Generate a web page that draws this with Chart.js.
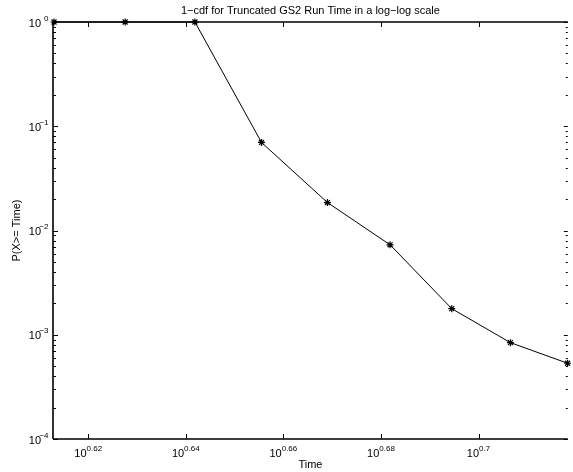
<!DOCTYPE html>
<html>
<head>
<meta charset="utf-8">
<script src="https://cdn.jsdelivr.net/npm/chart.js@4/dist/chart.umd.min.js"></script>
<style>
  html, body { margin: 0; padding: 0; background: #fff; }
  canvas { display: block; }
</style>
</head>
<body>
<canvas id="c" width="573" height="472"></canvas>
<script>
// ---- data ----
const timeValues = [4.102, 4.242, 4.384, 4.524, 4.667, 4.807, 4.949, 5.088, 5.227];
const probValues = [1, 1, 1, 0.0699, 0.01855, 0.00729, 0.00178, 0.00084, 0.000533];
const xTickExponents = [0.62, 0.64, 0.66, 0.68, 0.70];
const xTickLabels = ['0.62', '0.64', '0.66', '0.68', '0.7'];
const yTickExponents = [0, -1, -2, -3, -4];
const yTickLabels = ['0', '\u22121', '\u22122', '\u22123', '\u22124'];
const xRange = [4.102, 5.2276];
const yRange = [1e-4, 1];
const titleText = '1\u2212cdf for Truncated GS2 Run Time in a log\u2212log scale';
const xTitle = 'Time';
const yTitle = 'P(X>= Time)';

const FONT = '"Liberation Sans", Arial, Helvetica, sans-serif';

const axesPlugin = {
  id: 'matlabAxes',
  afterDraw(chart) {
    const ctx = chart.ctx;
    const a = chart.chartArea;
    const xs = chart.scales.x, ys = chart.scales.y;
    ctx.save();
    ctx.strokeStyle = '#000';
    ctx.fillStyle = '#000';
    // box lines
    ctx.lineWidth = 1.6;
    ctx.beginPath();
    ctx.moveTo(a.left, a.top); ctx.lineTo(a.right, a.top);
    ctx.moveTo(a.left, a.top); ctx.lineTo(a.left, a.bottom);
    ctx.moveTo(a.left, a.bottom); ctx.lineTo(a.right, a.bottom);
    ctx.stroke();
    // x major ticks (inward, top and bottom)
    ctx.lineWidth = 1;
    ctx.beginPath();
    xTickExponents.forEach(e => {
      const px = Math.round(xs.getPixelForValue(Math.pow(10, e))) + 0.5;
      ctx.moveTo(px, a.bottom); ctx.lineTo(px, a.bottom - 5);
      ctx.moveTo(px, a.top); ctx.lineTo(px, a.top + 5);
    });
    // y major + minor ticks (inward, left and right; right axis sits just off the edge)
    yTickExponents.forEach(e => {
      const py = Math.round(ys.getPixelForValue(Math.pow(10, e))) + 0.5;
      ctx.moveTo(a.left, py); ctx.lineTo(a.left + 5, py);
      ctx.moveTo(a.right, py); ctx.lineTo(a.right - 4, py);
      if (e > -4) {
        for (let m = 2; m <= 9; m++) {
          const v = m * Math.pow(10, e - 1);
          const pm = Math.round(ys.getPixelForValue(v)) + 0.5;
          ctx.moveTo(a.left, pm); ctx.lineTo(a.left + 3, pm);
          ctx.moveTo(a.right, pm); ctx.lineTo(a.right - 2, pm);
        }
      }
    });
    ctx.stroke();
    // x tick labels 10^e
    const baseFont = '11px ' + FONT;
    const supFont = '8px ' + FONT;
    ctx.textBaseline = 'alphabetic';
    xTickExponents.forEach((e, i) => {
      const px = xs.getPixelForValue(Math.pow(10, e));
      ctx.font = baseFont;
      const wb = ctx.measureText('10').width;
      ctx.font = supFont;
      const ws = ctx.measureText(xTickLabels[i]).width;
      const x0 = px - (wb + ws) / 2;
      ctx.textAlign = 'left';
      ctx.font = baseFont;
      ctx.fillText('10', x0, a.bottom + 18);
      ctx.font = supFont;
      ctx.fillText(xTickLabels[i], x0 + wb, a.bottom + 11.5);
    });
    // y tick labels 10^e
    yTickExponents.forEach((e, i) => {
      const py = ys.getPixelForValue(Math.pow(10, e));
      ctx.textAlign = 'right';
      ctx.font = baseFont;
      ctx.fillText('10', a.left - 12, py + 4.5);
      ctx.font = supFont;
      ctx.fillText(yTickLabels[i], a.left - 4.5, py - 1.5);
    });
    ctx.restore();
  }
};

Chart.defaults.color = '#000';
Chart.defaults.font.family = FONT;

new Chart(document.getElementById('c'), {
  type: 'line',
  data: {
    datasets: [{
      data: timeValues.map((t, i) => ({ x: t, y: probValues[i] })),
      borderColor: '#000',
      backgroundColor: '#000',
      borderWidth: 1,
      pointStyle: 'star',
      pointRadius: 3.5,
      pointBorderWidth: 1.2,
      pointBorderColor: '#000',
      tension: 0,
      fill: false,
      clip: false
    }]
  },
  options: {
    responsive: false,
    animation: false,
    devicePixelRatio: 1,
    layout: { padding: 0 },
    plugins: {
      legend: { display: false },
      tooltip: { enabled: false },
      title: {
        display: true,
        text: titleText,
        fullSize: false,
        color: '#000',
        font: { family: FONT, size: 11, weight: 'normal', lineHeight: 1.2 },
        padding: { top: 4.5, bottom: 4.3 }
      }
    },
    scales: {
      x: {
        type: 'logarithmic',
        min: xRange[0],
        max: xRange[1],
        grid: { display: false },
        border: { display: false },
        ticks: { display: false },
        title: {
          display: true, text: xTitle, color: '#000',
          font: { family: FONT, size: 11, lineHeight: 1.2 },
          padding: { top: 0, bottom: 0 }
        },
        afterFit(s) { s.height = 33; }
      },
      y: {
        type: 'logarithmic',
        min: yRange[0],
        max: yRange[1],
        grid: { display: false },
        border: { display: false },
        ticks: { display: false },
        title: {
          display: true, text: yTitle, color: '#000',
          font: { family: FONT, size: 11, lineHeight: 1.2 },
          padding: { top: 9.9, bottom: 0 }
        },
        afterFit(s) { s.width = 53; }
      }
    }
  },
  plugins: [axesPlugin]
});
</script>
</body>
</html>
